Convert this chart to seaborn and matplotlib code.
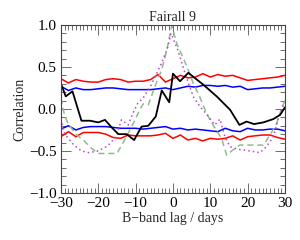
import matplotlib
matplotlib.use("Agg")
import matplotlib.pyplot as plt
import seaborn as sns
from matplotlib.ticker import MultipleLocator

# ---- data ----
lag_grid = [-30, -28, -26, -24, -22, -20, -18, -16, -14, -12, -10, -8, -6, -4, -2, 0,
            2, 4, 6, 8, 10, 12, 14, 16, 18, 20, 22, 24, 26, 28, 30]
red_upper = [0.36, 0.31, 0.35, 0.33, 0.32, 0.32, 0.35, 0.36, 0.35, 0.32, 0.33, 0.33, 0.35, 0.41,
             0.32, 0.36, 0.40, 0.37, 0.38, 0.42, 0.38, 0.41, 0.39, 0.40, 0.37, 0.34, 0.35, 0.36,
             0.37, 0.38, 0.40]
blue_upper = [0.27, 0.22, 0.25, 0.23, 0.23, 0.24, 0.25, 0.25, 0.24, 0.23, 0.23, 0.23, 0.23, 0.24,
              0.25, 0.23, 0.25, 0.27, 0.26, 0.28, 0.28, 0.27, 0.28, 0.26, 0.27, 0.23, 0.24, 0.25,
              0.25, 0.26, 0.27]
blue_lower = [-0.24, -0.20, -0.25, -0.22, -0.21, -0.21, -0.21, -0.22, -0.23, -0.23, -0.23, -0.24,
              -0.23, -0.22, -0.21, -0.24, -0.23, -0.25, -0.24, -0.25, -0.26, -0.27, -0.23, -0.26,
              -0.27, -0.23, -0.25, -0.25, -0.24, -0.24, -0.26]
red_lower = [-0.33, -0.27, -0.33, -0.28, -0.28, -0.28, -0.30, -0.34, -0.35, -0.31, -0.32, -0.32,
             -0.32, -0.31, -0.29, -0.35, -0.31, -0.37, -0.35, -0.38, -0.35, -0.36, -0.35, -0.32,
             -0.37, -0.33, -0.32, -0.31, -0.31, -0.34, -0.36]

black_lag = [-30, -28.7, -26.9, -24.5, -22.2, -20, -18.2, -16.4, -14.6, -12.4, -10.4, -8.4, -6.6,
             -4.6, -3, -1, 0, 1.9, 4.1, 8.1, 11.7, 15.3, 17.8, 19.7, 21.7, 24.2, 26.9, 28.7, 30]
black_corr = [0.30, 0.15, 0.21, -0.14, -0.14, -0.16, -0.13, -0.22, -0.30, -0.30, -0.37, -0.21,
              -0.20, -0.09, 0.22, 0.08, 0.42, 0.33, 0.43, 0.29, 0.15, -0.01, -0.19, -0.15, -0.18,
              -0.16, -0.12, -0.07, 0.02]

green_lag = [-30, -29, -28, -26, -24, -22, -20, -18, -16, -15, -13.7, -12, -10.6, -9, -8, -6.6,
             -4.8, -3, -1.7, -0.3, 1, 2, 3.7, 5.4, 7.2, 8.6, 10, 12, 13, 14.4, 15.7, 17.9, 20,
             22, 24.2, 26, 27.8, 29.1, 30]
green_corr = [0.13, -0.08, -0.18, -0.30, -0.37, -0.46, -0.53, -0.53, -0.53, -0.53, -0.43, -0.29,
              -0.17, -0.02, 0.06, 0.05, 0.27, 0.47, 0.69, 0.99, 0.78, 0.68, 0.51, 0.31, 0.14,
              -0.01, -0.14, -0.28, -0.35, -0.55, -0.50, -0.43, -0.43, -0.43, -0.43, -0.31,
              -0.17, 0.01, 0.10]

purple_lag = [-30, -29, -28, -26.5, -24.5, -22.5, -20, -17.5, -15.2, -13.8, -12, -10.7, -9.4,
              -8, -6, -4.5, -3, -1.5, -0.5, 1.4, 3.2, 5.4, 7.2, 9, 11.2, 12.6, 13.9, 15.3,
              17.5, 20.6, 23.3, 25, 26.9, 28.2, 29.6, 30]
purple_corr = [-0.12, -0.30, -0.35, -0.43, -0.50, -0.52, -0.50, -0.44, -0.33, -0.13, -0.19,
               -0.05, 0.07, 0.13, 0.27, 0.41, 0.55, 0.72, 0.90, 0.69, 0.43, 0.15, 0.03, -0.06,
               -0.19, -0.12, -0.33, -0.45, -0.48, -0.50, -0.52, -0.45, -0.33, -0.11, 0.05, 0.07]

x_ticks = [-30, -20, -10, 0, 10, 20, 30]
y_ticks = [-1.0, -0.5, 0.0, 0.5, 1.0]

# ---- style ----
sns.set_theme(style="ticks")
plt.rcParams["font.family"] = ["Liberation Serif", "DejaVu Serif"]
plt.rcParams["axes.unicode_minus"] = True

fig = plt.figure(figsize=(3.0, 2.4), dpi=100)
ax = fig.add_axes([0.203, 0.196, 0.747, 0.70])

lw = 1.1
sns.lineplot(x=lag_grid, y=red_upper, ax=ax, color="#ff0000", lw=lw)
sns.lineplot(x=lag_grid, y=red_lower, ax=ax, color="#ff0000", lw=lw)
sns.lineplot(x=lag_grid, y=blue_upper, ax=ax, color="#0000ff", lw=lw)
sns.lineplot(x=lag_grid, y=blue_lower, ax=ax, color="#0000ff", lw=lw)
sns.lineplot(x=green_lag, y=green_corr, ax=ax, color="#8fbc8f", lw=lw, linestyle=(0, (4, 2.5)))
sns.lineplot(x=purple_lag, y=purple_corr, ax=ax, color="#b848c8", lw=lw, linestyle=(0, (1, 2)))
sns.lineplot(x=black_lag, y=black_corr, ax=ax, color="black", lw=1.3)

ax.set_xlim(-30, 30)
ax.set_ylim(-1.0, 1.0)
ax.set_xticks(x_ticks)
ax.set_yticks(y_ticks)
ax.set_xticklabels([str(t).replace("-", "\u2212") for t in x_ticks])
ax.set_yticklabels([f"{t:.1f}".replace("-", "\u2212") for t in y_ticks])
ax.xaxis.set_minor_locator(MultipleLocator(1))
ax.yaxis.set_minor_locator(MultipleLocator(0.1))
ax.tick_params(which="both", direction="in", top=True, right=True, colors="#555555",
               labelcolor="black", labelsize=11, width=0.6)
ax.tick_params(which="major", length=7, pad=3)
ax.tick_params(which="minor", length=3.5)
for s in ax.spines.values():
    s.set_color("#444444")
    s.set_linewidth(0.8)

ax.set_title("Fairall 9", fontsize=10, pad=3)
ax.set_xlabel("B\u2212band lag / days", fontsize=10, labelpad=1)
ax.set_ylabel("Correlation", fontsize=10, labelpad=2)

fig.savefig("out.png", dpi=100)
